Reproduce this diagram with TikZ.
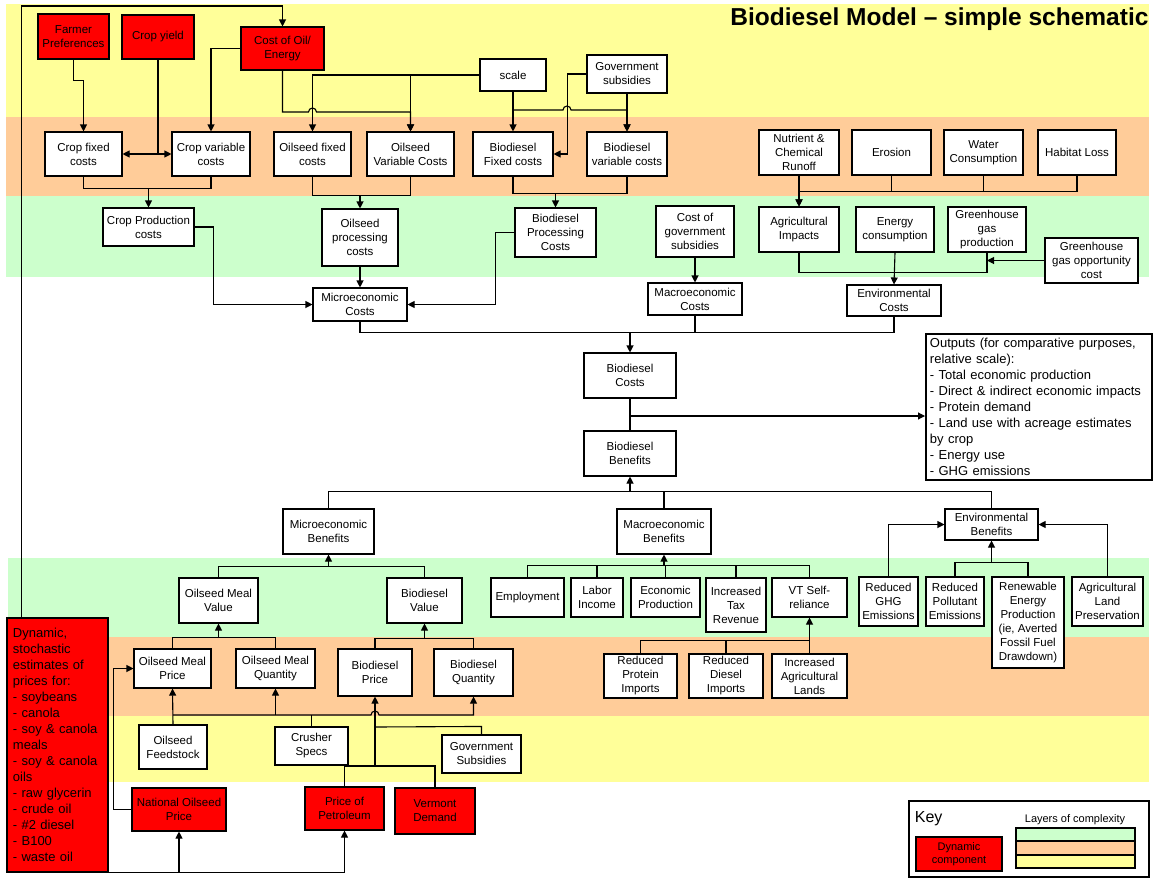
\documentclass[tikz,border=0pt]{standalone}
\usepackage{fontspec}
\setmainfont{Liberation Sans}
\usetikzlibrary{arrows.meta}
\newcommand{\boxfont}{\fontsize{11.5}{14}\selectfont}
\newcommand{\listfont}{\fontsize{13}{16}\selectfont}
\definecolor{layeryellow}{RGB}{255,255,153}
\definecolor{layerorange}{RGB}{255,204,153}
\definecolor{layergreen}{RGB}{204,255,204}
\tikzset{
  box/.style={draw, fill=white, align=center, inner sep=1pt, font=\boxfont},
  dynbox/.style={box, fill=red},
  arr/.style={-{Triangle[length=7pt,width=7pt]}}
}
\begin{document}
\begin{tikzpicture}[x=1pt,y=-1pt,line width=1.1pt]
\useasboundingbox (0,0) rectangle (1158,878);
% layers of complexity
\fill[layeryellow] (6,4) rectangle (1149,117);
\fill[layerorange] (6,117) rectangle (1149,196);
\fill[layergreen] (6,196) rectangle (1149,277);
\fill[layergreen] (8,558) rectangle (1149,637);
\fill[layerorange] (8,637) rectangle (1149,716);
\fill[layeryellow] (8,716) rectangle (1149,782);
\node[anchor=east, inner sep=0, font=\fontsize{24.5}{28}\selectfont\bfseries] (title) at (1149,19) {Biodiesel Model – simple schematic};

\node[dynbox, minimum width=71pt, minimum height=45pt] (fp) at (73.5,36.5) {Farmer\\Preferences};
\node[dynbox, minimum width=72pt, minimum height=44pt] (cy) at (158,37) {Crop yield};
\node[dynbox, minimum width=83pt, minimum height=43pt] (coil) at (282.5,48.5) {Cost of Oil/\\Energy};
\node[box, minimum width=66pt, minimum height=32pt] (scale) at (513,75) {scale};
\node[box, minimum width=80pt, minimum height=38pt] (gsub) at (627,74) {Government\\subsidies};

\node[box, minimum width=77pt, minimum height=44pt] (cfix) at (83.5,154) {Crop fixed\\costs};
\node[box, minimum width=78pt, minimum height=44pt] (cvar) at (211,154) {Crop variable\\costs};
\node[box, minimum width=77pt, minimum height=44pt] (ofix) at (312.5,154) {Oilseed fixed\\costs};
\node[box, minimum width=87pt, minimum height=44pt] (ovar) at (410.5,154) {Oilseed\\Variable Costs};
\node[box, minimum width=80pt, minimum height=44pt] (bfix) at (513,154) {Biodiesel\\Fixed costs};
\node[box, minimum width=80pt, minimum height=44pt] (bvar) at (627,154) {Biodiesel\\variable costs};
\node[box, minimum width=80pt, minimum height=45pt] (nutr) at (799,152.5) {Nutrient \&\\Chemical\\Runoff};
\node[box, minimum width=79pt, minimum height=45pt] (ero) at (891.5,152.5) {Erosion};
\node[box, minimum width=79pt, minimum height=45pt] (water) at (983.5,152.5) {Water\\Consumption};
\node[box, minimum width=78pt, minimum height=45pt] (hab) at (1077,152.5) {Habitat Loss};

\node[box, minimum width=91pt, minimum height=38pt] (cprod) at (148.5,227) {Crop Production\\costs};
\node[box, minimum width=76pt, minimum height=57pt] (oproc) at (360,237.5) {Oilseed\\processing\\costs};
\node[box, minimum width=81pt, minimum height=49pt] (bproc) at (555.5,232.5) {Biodiesel\\Processing\\Costs};
\node[box, minimum width=78pt, minimum height=51pt] (cgov) at (695,231.5) {Cost of\\government\\subsidies};
\node[box, minimum width=80pt, minimum height=45pt] (agri) at (799,229.5) {Agricultural\\Impacts};
\node[box, minimum width=78pt, minimum height=45pt] (energy) at (895,229.5) {Energy\\consumption};
\node[box, minimum width=78pt, minimum height=45pt] (ghg) at (987,229.5) {Greenhouse\\gas\\production};
\node[box, minimum width=93pt, minimum height=45pt] (ghgopp) at (1091.5,260.5) {Greenhouse\\gas opportunity\\cost};

\node[box, minimum width=94pt, minimum height=33pt] (micc) at (360,304.5) {Microeconomic\\Costs};
\node[box, minimum width=94pt, minimum height=32pt] (macc) at (695,299) {Macroeconomic\\Costs};
\node[box, minimum width=94pt, minimum height=31pt] (envc) at (894,300.5) {Environmental\\Costs};
\node[box, minimum width=92pt, minimum height=45pt] (bcost) at (630,375.5) {Biodiesel\\Costs};
\node[box, minimum width=92pt, minimum height=45pt] (bben) at (630,453.5) {Biodiesel\\Benefits};
\node[box, font=\listfont, align=left, anchor=north west, line width=1.9pt, text width=218pt, inner xsep=4pt, inner ysep=0pt, minimum height=146pt] (outp) at (925,333) {Outputs (for comparative purposes,\\relative scale):\\- Total economic production\\- Direct \& indirect economic impacts\\- Protein demand\\- Land use with acreage estimates\\by crop\\- Energy use\\- GHG emissions};

\node[box, minimum width=91pt, minimum height=45pt] (mben) at (328.5,531.5) {Microeconomic\\Benefits};
\node[box, minimum width=94pt, minimum height=45pt] (maben) at (664,531.5) {Macroeconomic\\Benefits};
\node[box, minimum width=93pt, minimum height=31pt] (eben) at (991.5,524.5) {Environmental\\Benefits};

\node[box, minimum width=79pt, minimum height=45pt] (omv) at (218.5,600.5) {Oilseed Meal\\Value};
\node[box, minimum width=75pt, minimum height=45pt] (bv) at (424.5,600.5) {Biodiesel\\Value};
\node[box, minimum width=73pt, minimum height=39pt] (emp) at (527.5,597.5) {Employment};
\node[box, minimum width=52pt, minimum height=39pt] (lab) at (597,597.5) {Labor\\Income};
\node[box, minimum width=69pt, minimum height=39pt] (econ) at (665.5,597.5) {Economic\\Production};
\node[box, minimum width=60pt, minimum height=54pt] (tax) at (736,605) {Increased\\Tax\\Revenue};
\node[box, minimum width=75pt, minimum height=39pt] (vt) at (809.5,597.5) {VT Self-\\reliance};
\node[box, minimum width=59pt, minimum height=49pt] (rghg) at (888.5,601.5) {Reduced\\GHG\\Emissions};
\node[box, minimum width=58pt, minimum height=49pt] (rpol) at (955,601.5) {Reduced\\Pollutant\\Emissions};
\node[box, minimum width=72pt, minimum height=91pt] (renew) at (1028,622.5) {Renewable\\Energy\\Production\\(ie, Averted\\Fossil Fuel\\Drawdown)};
\node[box, minimum width=71pt, minimum height=49pt] (aglp) at (1107.5,601.5) {Agricultural\\Land\\Preservation};

\node[box, minimum width=77pt, minimum height=39pt] (omp) at (172.5,668.5) {Oilseed Meal\\Price};
\node[box, minimum width=79pt, minimum height=39pt] (omq) at (275.5,668.5) {Oilseed Meal\\Quantity};
\node[box, minimum width=74pt, minimum height=47pt] (bp) at (375,672.5) {Biodiesel\\Price};
\node[box, minimum width=79pt, minimum height=47pt] (bq) at (473.5,672.5) {Biodiesel\\Quantity};
\node[box, minimum width=73pt, minimum height=44pt] (rpi) at (640.5,676) {Reduced\\Protein\\Imports};
\node[box, minimum width=74pt, minimum height=44pt] (rdi) at (726,676) {Reduced\\Diesel\\Imports};
\node[box, minimum width=75pt, minimum height=44pt] (ial) at (809.5,676) {Increased\\Agricultural\\Lands};

\node[box, minimum width=68pt, minimum height=44pt] (ofs) at (173,747) {Oilseed\\Feedstock};
\node[box, minimum width=73pt, minimum height=38pt] (crush) at (311.5,746) {Crusher\\Specs};
\node[box, minimum width=79pt, minimum height=38pt] (gsub2) at (481.5,754) {Government\\Subsidies};

\node[dynbox, minimum width=94pt, minimum height=43pt] (nop) at (179,809.5) {National Oilseed\\Price};
\node[dynbox, minimum width=79pt, minimum height=43pt] (pp) at (344.5,808.5) {Price of\\Petroleum};
\node[dynbox, minimum width=80pt, minimum height=46pt] (vd) at (435,811) {Vermont\\Demand};
\node[dynbox, font=\listfont, align=left, anchor=north west, line width=1.9pt, text width=89pt, inner xsep=6pt, minimum height=254pt] (dyn) at (6,617) {Dynamic,\\stochastic\\estimates of\\prices for:\\- soybeans\\- canola\\- soy \& canola\\meals\\- soy \& canola\\oils\\- raw glycerin\\- crude oil\\- \#2 diesel\\- B100\\- waste oil};

\draw[arr] (fp.south) -- ++(0,21) -| (cfix.north);
\draw[arr] (cy.south) |- (cfix.east);
\draw[arr] (cy.south) |- (cvar.west);
\draw[arr] (coil.west) -| (cvar.north);
\draw[arr] (coil.south) |- (308.5,112) arc[start angle=180,end angle=0,radius=4pt] -| (ovar.north);
\draw[arr] (scale.west) -| (ofix.north);
\draw[arr] (ovar.north |- scale.west) -- (ovar.north);
\draw[arr] (scale.south) -- (bfix.north);
\draw[arr] (scale.south |- 0,110) -- (563,110) arc[start angle=180,end angle=0,radius=4pt] -| (bvar.north);
\draw[arr] (gsub.west) -| ([xshift=14pt]bfix.east) -- (bfix.east);
\draw[arr] (gsub.south) -- (bvar.north);

\draw (cfix.south) -- ++(0,12) -| (cvar.south);
\draw[arr] (cprod.north |- 0,188) -- (cprod.north);
\draw (ofix.south) -- ++(0,19) -| (ovar.south);
\draw[arr] (oproc.north |- 0,195) -- (oproc.north);
\draw (bfix.south) -- ++(0,17) -| (bvar.south);
\draw[arr] (bproc.north |- 0,193) -- (bproc.north);
\draw[arr] (hab.south) -- ++(0,16) -| (agri.north);
\draw[arr] (nutr.south) -- (agri.north);
\draw (ero.south) -- ++(0,16);
\draw (water.south) -- ++(0,16);

\draw[arr] (cprod.east) -- ++(19,0) |- (micc.west);
\draw[arr] (oproc.south) -- (micc.north);
\draw[arr] (bproc.west) -- ++(-19,0) |- (micc.east);
\draw[arr] (cgov.south) -- (macc.north);
\draw (agri.south) -- ++(0,20) -| (ghg.south);
\draw[arr] (energy.south) -- (envc.north);
\draw[arr] (ghgopp.west) -- (ghg.south |- ghgopp.west);

\draw (micc.south) -- ++(0,11) -| (envc.south);
\draw (macc.south) -- ++(0,17);
\draw[arr] (bcost.north |- 0,332) -- (bcost.north);
\draw (bcost.south) -- (bben.north);
\draw[arr] (bcost.south |- 0,416) -- (outp.west |- 0,416);
\draw (mben.north) -- ++(0,-17) -| (eben.north);
\draw (maben.north) -- ++(0,-17);
\draw[arr] (bben.south |- 0,492) -- (bben.south);

\draw (omv.north) -- ++(0,-11) -| (bv.north);
\draw[arr] (mben.south |- 0,567) -- (mben.south);
\draw (emp.north) -- ++(0,-12) -| (vt.north);
\draw (lab.north) -- ++(0,-12);
\draw (econ.north) -- ++(0,-12);
\draw (tax.north) -- ++(0,-12);
\draw[arr] (maben.south |- 0,566) -- (maben.south);
\draw[arr] (rghg.north) |- (eben.west);
\draw[arr] (aglp.north) |- (eben.east);
\draw (rpol.north) -- ++(0,-14) -| (renew.north);
\draw[arr] (eben.south |- 0,563) -- (eben.south);

\draw (omp.north) -- ++(0,-11) -| (omq.north);
\draw[arr] (omv.south |- 0,638) -- (omv.south);
\draw (bp.north) -- ++(0,-10) -| (bq.north);
\draw[arr] (bv.south |- 0,639) -- (bv.south);
\draw (rpi.north) -- ++(0,-13) -| (ial.north);
\draw (rdi.north) -- ++(0,-13);
\draw[arr] (ial.north) -- (vt.south);

\draw[arr] (ofs.north) -- (omp.south);
\draw[arr] (ofs.north |- 0,715) -- (371,715) arc[start angle=180,end angle=0,radius=4pt] -| (bq.south);
\draw[arr] (omq.south |- 0,715) -- (omq.south);
\draw (crush.north) -- (crush.north |- 0,715);
\draw[arr] (bp.south |- 0,766) -- (bp.south);
\draw (gsub2.north) -- ++(0,-8) -- (bp.south |- 0,727);
\draw (pp.north) |- (vd.north |- 0,766) -- (vd.north);

\draw[arr] ([xshift=-36pt]dyn.north) |- (coil.north |- 0,6) -- (coil.north);
\draw[arr] (dyn.south east) -| (pp.south);
\draw[arr] (nop.south |- dyn.south east) -- (nop.south);
\draw[arr] (nop.west) -- ++(-18,0) |- (omp.west);

% key
\draw (909,801) rectangle (1149,877);
\node[anchor=west, font=\fontsize{16}{18}\selectfont] (key) at (911,819) {Key};
\node[dynbox, font=\fontsize{11}{12.5}\selectfont, minimum width=86pt, minimum height=34pt] (keydyn) at (959,854) {Dynamic\\component};
\node[font=\fontsize{11}{12}\selectfont] (keylay) at (1075,820) {Layers of complexity};
\draw[fill=layergreen] (1016,828) rectangle (1135,841);
\draw[fill=layerorange] (1016,841) rectangle (1135,855);
\draw[fill=layeryellow] (1016,855) rectangle (1135,868);
\end{tikzpicture}
\end{document}
